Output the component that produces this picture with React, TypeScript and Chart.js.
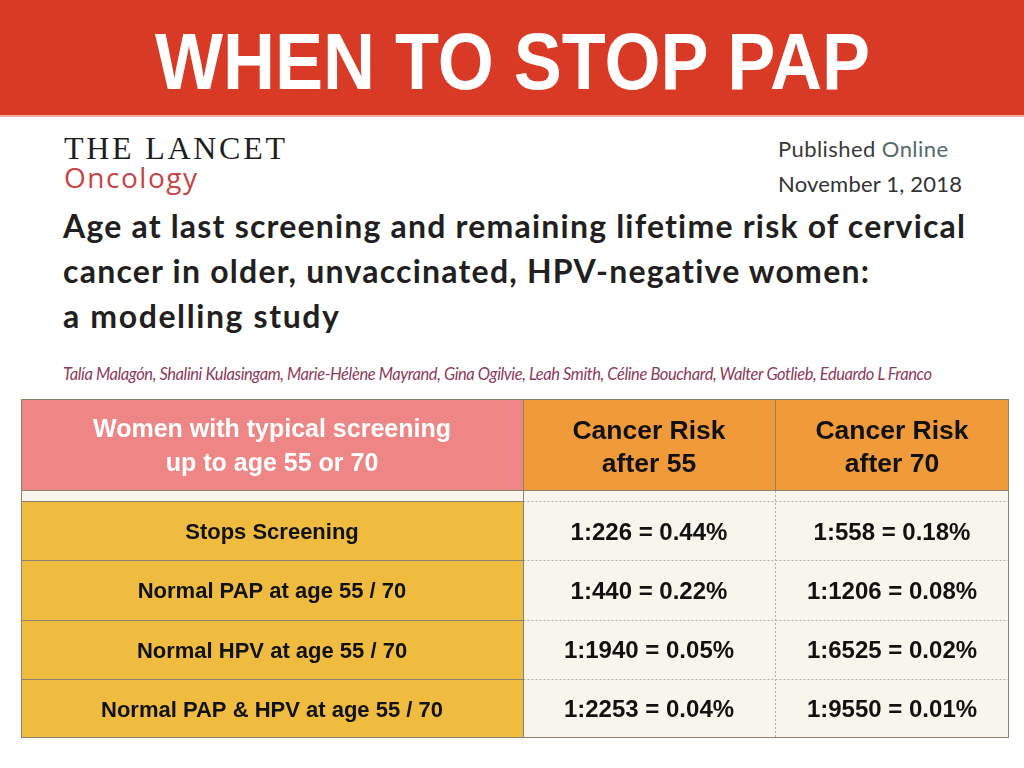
import React, { useEffect, useRef } from "react";
import { Chart, registerables } from "chart.js";

Chart.register(...registerables);

// ---------- Data ----------
const slideTitle = "WHEN TO STOP PAP";
const journalName = "THE LANCET";
const journalSection = "Oncology";
const publishedWord = "Published ";
const onlineWord = "Online";
const publishedDate = "November 1, 2018";
const articleTitleLines = [
  "Age at last screening and remaining lifetime risk of cervical",
  "cancer in older, unvaccinated, HPV-negative women:",
  "a modelling study",
];
const authorsLine =
  "Talía Malagón, Shalini Kulasingam, Marie-Hélène Mayrand, Gina Ogilvie, Leah Smith, Céline Bouchard, Walter Gotlieb, Eduardo L Franco";

const headerLabels = [
  ["Women with typical screening", "up to age 55 or 70"],
  ["Cancer Risk", "after 55"],
  ["Cancer Risk", "after 70"],
];
const rowLabels = [
  "Stops Screening",
  "Normal PAP at age 55 / 70",
  "Normal HPV at age 55 / 70",
  "Normal PAP & HPV at age 55 / 70",
];
const riskAfter55 = ["1:226 = 0.44%", "1:440 = 0.22%", "1:1940 = 0.05%", "1:2253 = 0.04%"];
const riskAfter70 = ["1:558 = 0.18%", "1:1206 = 0.08%", "1:6525 = 0.02%", "1:9550 = 0.01%"];

// ---------- Layout / style ----------
const TABLE_W = 988;
const COL_EDGES = [0, 502, 754, 988];
const PINK = "#EF8686";
const ORANGE = "#F19A3A";
const GOLD = "#EFBC40";
const CREAM = "#F8F6EC";
const LINE = "#8C8272";
const DASH = "#B3AEA4";
const TFONT = "'Liberation Sans', Arial, Helvetica, sans-serif";

function drawCenteredText(
  ctx: CanvasRenderingContext2D,
  text: string,
  x: number,
  y: number,
  font: string,
  color: string,
  spacing: number
) {
  ctx.save();
  ctx.font = font;
  ctx.fillStyle = color;
  ctx.textAlign = "center";
  ctx.textBaseline = "alphabetic";
  (ctx as any).letterSpacing = spacing + "px";
  ctx.fillText(text, x + spacing / 2, y);
  ctx.restore();
}

function line(ctx: CanvasRenderingContext2D, x1: number, y1: number, x2: number, y2: number, color: string, dash: number[]) {
  ctx.save();
  ctx.strokeStyle = color;
  ctx.lineWidth = 1;
  ctx.setLineDash(dash);
  ctx.beginPath();
  ctx.moveTo(x1, y1);
  ctx.lineTo(x2, y2);
  ctx.stroke();
  ctx.restore();
}

const snap = (v: number) => Math.round(v) + 0.5;

function cellSpans(n: number, a: number, b: number) {
  const out: [number, number][] = [];
  for (let i = 0; i < n; i++) out.push([COL_EDGES[a], COL_EDGES[b]]);
  return out;
}

function HeaderTable() {
  const ref = useRef<HTMLCanvasElement>(null);
  useEffect(() => {
    const plugin = {
      id: "headerCells",
      afterDatasetsDraw(chart: any) {
        const ctx = chart.ctx as CanvasRenderingContext2D;
        const W = chart.width;
        const H = chart.height;
        const xs = chart.scales.x;
        for (let d = 0; d < 3; d++) {
          const el = chart.getDatasetMeta(d).data[0];
          const p = el.getProps(["x", "base", "y"], true);
          const cx = (p.x + p.base) / 2;
          const cy = p.y;
          const lines = headerLabels[d];
          if (d === 0) {
            drawCenteredText(ctx, lines[0], cx, cy - 8, `bold 25px ${TFONT}`, "#FFFFFF", 0);
            drawCenteredText(ctx, lines[1], cx, cy + 26, `bold 25px ${TFONT}`, "#FFFFFF", 0);
          } else {
            drawCenteredText(ctx, lines[0], cx, cy - 6, `bold 26.5px ${TFONT}`, "#111111", 0);
            drawCenteredText(ctx, lines[1], cx, cy + 27, `bold 26.5px ${TFONT}`, "#111111", 0);
          }
        }
        line(ctx, 0, 0.5, W, 0.5, LINE, []);
        line(ctx, 0, H - 0.5, W, H - 0.5, LINE, []);
        line(ctx, 0.5, 0, 0.5, H, LINE, []);
        line(ctx, W - 0.5, 0, W - 0.5, H, LINE, []);
        line(ctx, snap(xs.getPixelForValue(COL_EDGES[1])), 0, snap(xs.getPixelForValue(COL_EDGES[1])), H, LINE, []);
        line(ctx, snap(xs.getPixelForValue(COL_EDGES[2])), 0, snap(xs.getPixelForValue(COL_EDGES[2])), H, LINE, []);
      },
    };
    const chart = new Chart(ref.current!, {
      type: "bar",
      data: {
        labels: ["header"],
        datasets: [
          { data: cellSpans(1, 0, 1) as any, backgroundColor: PINK },
          { data: cellSpans(1, 1, 2) as any, backgroundColor: ORANGE },
          { data: cellSpans(1, 2, 3) as any, backgroundColor: ORANGE },
        ].map((d) => ({ ...d, grouped: false, borderWidth: 0, barPercentage: 1, categoryPercentage: 1 })),
      },
      options: {
        indexAxis: "y",
        responsive: false,
        maintainAspectRatio: false,
        animation: false,
        layout: { padding: 0 },
        plugins: { legend: { display: false }, tooltip: { enabled: false } },
        scales: {
          x: { type: "linear", min: 0, max: TABLE_W, display: false },
          y: { type: "category", display: false },
        },
      },
      plugins: [plugin],
    });
    return () => chart.destroy();
  }, []);
  return (
    <canvas
      ref={ref}
      width={988}
      height={92}
      style={{ position: "absolute", left: 21, top: 399, width: 988, height: 92 }}
    />
  );
}

function BodyTable() {
  const ref = useRef<HTMLCanvasElement>(null);
  useEffect(() => {
    const plugin = {
      id: "bodyCells",
      beforeDraw(chart: any) {
        const ctx = chart.ctx as CanvasRenderingContext2D;
        ctx.save();
        ctx.fillStyle = CREAM;
        ctx.fillRect(0, 0, chart.width, chart.height);
        ctx.restore();
      },
      afterDatasetsDraw(chart: any) {
        const ctx = chart.ctx as CanvasRenderingContext2D;
        const W = chart.width;
        const H = chart.height;
        const xs = chart.scales.x;
        const x1 = snap(xs.getPixelForValue(COL_EDGES[1]));
        const x2 = snap(xs.getPixelForValue(COL_EDGES[2]));
        const meta0 = chart.getDatasetMeta(0).data;
        const bounds: number[] = [];
        meta0.forEach((el: any, i: number) => {
          const p = el.getProps(["y", "height"], true);
          if (i === 0) bounds.push(p.y - p.height / 2);
          bounds.push(p.y + p.height / 2);
        });
        const texts = [rowLabels, riskAfter55, riskAfter70];
        for (let d = 0; d < 3; d++) {
          chart.getDatasetMeta(d).data.forEach((el: any, i: number) => {
            const p = el.getProps(["x", "base", "y"], true);
            const cx = (p.x + p.base) / 2;
            if (d === 0) drawCenteredText(ctx, texts[d][i], cx, p.y + 8.5, `bold 22px ${TFONT}`, "#111111", 0);
            else drawCenteredText(ctx, texts[d][i], cx, p.y + 9, `bold 24px ${TFONT}`, "#111111", 0);
          });
        }
        for (let i = 0; i < bounds.length - 1; i++) {
          line(ctx, x1, snap(bounds[i]), W, snap(bounds[i]), DASH, [2, 2]);
        }
        line(ctx, x2, 0, x2, H, DASH, [2, 2]);
        for (let i = 0; i < bounds.length - 1; i++) {
          line(ctx, 0, snap(bounds[i]), x1, snap(bounds[i]), LINE, []);
        }
        line(ctx, x1, 0, x1, H, LINE, []);
        line(ctx, 0.5, 0, 0.5, H, LINE, []);
        line(ctx, W - 0.5, 0, W - 0.5, H, LINE, []);
        line(ctx, 0, H - 0.5, W, H - 0.5, LINE, []);
      },
    };
    const n = rowLabels.length;
    const chart = new Chart(ref.current!, {
      type: "bar",
      data: {
        labels: rowLabels,
        datasets: [
          { data: cellSpans(n, 0, 1) as any, backgroundColor: GOLD },
          { data: cellSpans(n, 1, 2) as any, backgroundColor: CREAM },
          { data: cellSpans(n, 2, 3) as any, backgroundColor: CREAM },
        ].map((d) => ({ ...d, grouped: false, borderWidth: 0, barPercentage: 1, categoryPercentage: 1 })),
      },
      options: {
        indexAxis: "y",
        responsive: false,
        maintainAspectRatio: false,
        animation: false,
        layout: { padding: { top: 10, left: 0, right: 0, bottom: 0 } },
        plugins: { legend: { display: false }, tooltip: { enabled: false } },
        scales: {
          x: { type: "linear", min: 0, max: TABLE_W, display: false },
          y: { type: "category", display: false },
        },
      },
      plugins: [plugin],
    });
    return () => chart.destroy();
  }, []);
  return (
    <canvas
      ref={ref}
      width={988}
      height={247}
      style={{ position: "absolute", left: 21, top: 491, width: 988, height: 247 }}
    />
  );
}

export default function App() {
  return (
    <div
      style={{
        position: "fixed",
        left: 0,
        top: 0,
        width: 1024,
        height: 768,
        background: "#FFFFFF",
        overflow: "hidden",
      }}
    >
      <svg
        width={1024}
        height={768}
        style={{ position: "absolute", left: 0, top: 0, fontVariantLigatures: "none" }}
      >
        <rect x={0} y={0} width={1024} height={115} fill="#D93A26" />
        <rect x={0} y={115} width={1024} height={2} fill="#EDAEA4" />
        <text
          x={155}
          y={89}
          textLength={715}
          lengthAdjust="spacingAndGlyphs"
          fontFamily="'Liberation Sans', Arial, sans-serif"
          fontWeight={700}
          fontSize={80}
          fill="#FFFFFF"
        >
          {slideTitle}
        </text>
        <text
          x={64}
          y={159}
          textLength={221}
          lengthAdjust="spacing"
          fontFamily="'Liberation Serif', 'DejaVu Serif', serif"
          fontSize={32}
          fill="#1E1E1E"
        >
          {journalName}
        </text>
        <text
          x={64}
          y={188}
          textLength={133}
          lengthAdjust="spacing"
          fontFamily="'Open Sans', sans-serif"
          fontSize={28}
          fill="#C94444"
        >
          {journalSection}
        </text>
        <text
          x={778}
          y={157}
          textLength={170}
          lengthAdjust="spacing"
          fontFamily="Lato, sans-serif"
          fontSize={22}
        >
          <tspan fill="#3A3A3A">{publishedWord}</tspan>
          <tspan fill="#56696B">{onlineWord}</tspan>
        </text>
        <text
          x={778}
          y={192}
          textLength={184}
          lengthAdjust="spacing"
          fontFamily="Lato, sans-serif"
          fontSize={22}
          fill="#333333"
        >
          {publishedDate}
        </text>
        {articleTitleLines.map((t, i) => (
          <text
            key={i}
            x={63}
            y={238 + i * 45}
            textLength={[902, 806, 276][i]}
            lengthAdjust="spacing"
            fontFamily="Lato, sans-serif"
            fontWeight={700}
            fontSize={32}
            fill="#231F20"
          >
            {t}
          </text>
        ))}
        <text
          x={63}
          y={380}
          textLength={869}
          lengthAdjust="spacing"
          fontFamily="Lato, sans-serif"
          fontStyle="italic"
          fontSize={16.5}
          fill="#8B3B5B"
        >
          {authorsLine}
        </text>
      </svg>
      <HeaderTable />
      <BodyTable />
    </div>
  );
}
